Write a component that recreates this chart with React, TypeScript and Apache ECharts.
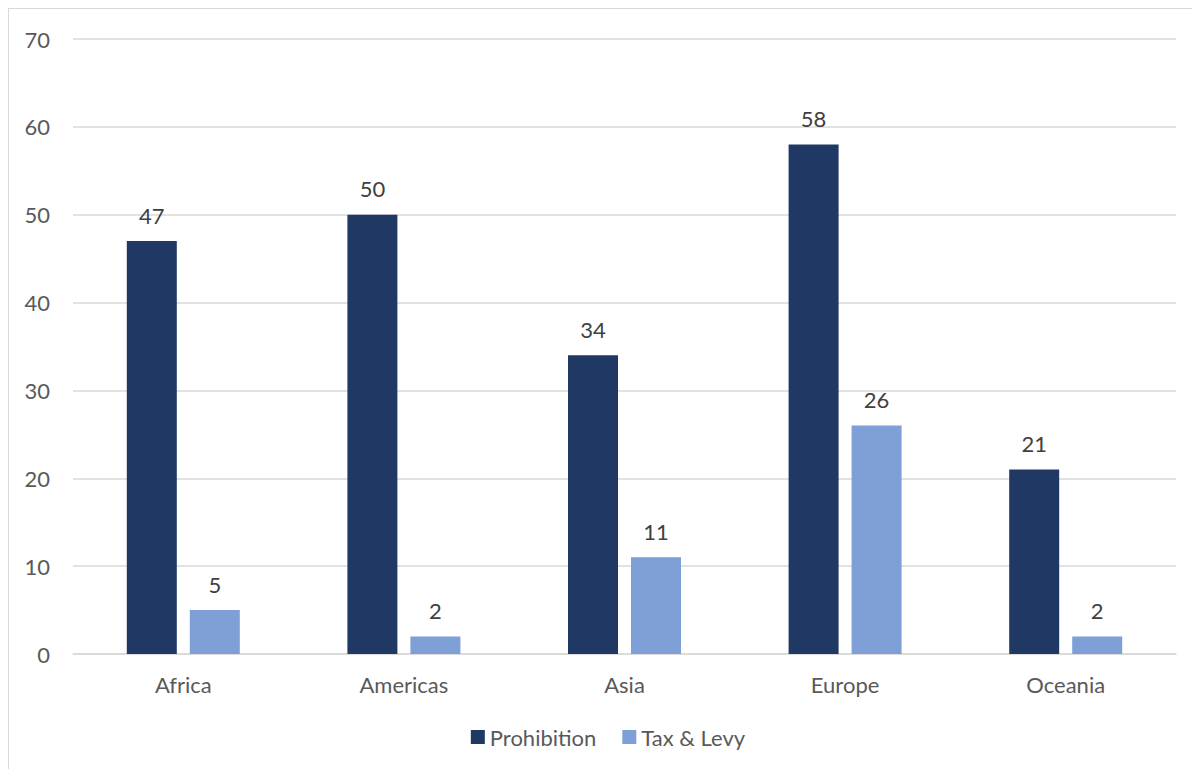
import React, { useEffect, useRef } from "react";
import * as echarts from "echarts";

const categories = ["Africa", "Americas", "Asia", "Europe", "Oceania"];
const prohibition = [47, 50, 34, 58, 21];
const taxLevy = [5, 2, 11, 26, 2];
const seriesNames = ["Prohibition", "Tax & Levy"];

const FONT = "Lato, 'Open Sans', sans-serif";
const FS = 22;

export default function App() {
  const ref = useRef<HTMLDivElement>(null);
  useEffect(() => {
    if (!ref.current) return;
    const chart = echarts.init(ref.current, undefined, { renderer: "svg" });
    const label = {
      show: true,
      position: "top" as const,
      distance: 15,
      color: "#404040",
      fontSize: FS,
      fontFamily: FONT,
    };
    chart.setOption({
      animation: false,
      textStyle: { fontFamily: FONT },
      grid: { left: 64, right: 31, top: 30, bottom: 123, containLabel: false },
      legend: {
        top: 712,
        left: "center",
        itemWidth: 14,
        itemHeight: 14,
        itemGap: 26,
        icon: "rect",
        textStyle: { color: "#595959", fontSize: FS, fontFamily: FONT },
        data: seriesNames,
      },
      xAxis: {
        type: "category",
        data: categories,
        axisLine: { lineStyle: { color: "#d9d9d9", width: 1.5 } },
        axisTick: { show: false },
        axisLabel: { color: "#595959", fontSize: FS, margin: 19, fontFamily: FONT },
      },
      yAxis: {
        type: "value",
        min: 0,
        max: 70,
        interval: 10,
        axisLine: { show: false },
        axisTick: { show: false },
        splitLine: { lineStyle: { color: "#d9d9d9", width: 1.5 } },
        axisLabel: { color: "#595959", fontSize: FS, margin: 23, fontFamily: FONT },
      },
      series: [
        {
          name: seriesNames[0],
          type: "bar",
          data: prohibition,
          barWidth: 50,
          barGap: "26%",
          itemStyle: { color: "#203864" },
          label,
        },
        {
          name: seriesNames[1],
          type: "bar",
          data: taxLevy,
          barWidth: 50,
          itemStyle: { color: "#7f9fd7" },
          label,
        },
      ],
    });
    return () => chart.dispose();
  }, []);
  return (
    <div
      ref={ref}
      style={{
        width: 1200,
        height: 770,
        border: "1px solid #d9d9d9",
        boxSizing: "border-box",
        background: "#fff",
      }}
    />
  );
}
